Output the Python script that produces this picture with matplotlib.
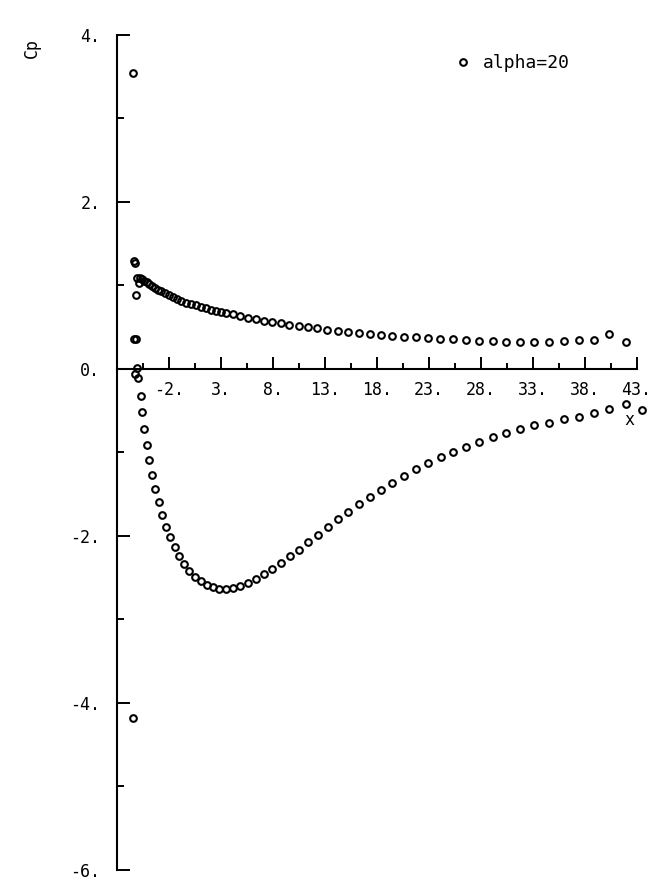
import matplotlib
matplotlib.use("Agg")
import matplotlib.pyplot as plt
from matplotlib.ticker import FixedLocator, FuncFormatter

plt.rcParams["font.family"] = ["DejaVu Sans Mono"]
plt.rcParams["axes.unicode_minus"] = False

# points around the leading edge
le_x = [-5.46, -5.37, -5.27, -5.17, -5.37, -5.17, -5.08, -5.27, -4.98, -5.46]
le_cp = [3.54, 1.29, 1.27, 0.89, 0.36, 0.36, 0.01, -0.06, -0.11, -4.18]

# upper branch (positive Cp)
up_x = [-5.11, -4.88, -4.79, -4.60, -4.40, -4.12, -3.92, -3.63, -3.35, -3.06,
        -2.77, -2.38, -2.00, -1.62, -1.23, -0.85, -0.37, 0.12, 0.60, 1.08,
        1.56, 2.04, 2.52, 3.00, 3.48, 4.15, 4.83, 5.60, 6.37, 7.13,
        7.90, 8.77, 9.54, 10.50, 11.37, 12.23, 13.19, 14.25, 15.21, 16.27,
        17.33, 18.38, 19.44, 20.60, 21.75, 22.90, 24.06, 25.31, 26.56, 27.81,
        29.15, 30.40, 31.75, 33.10, 34.54, 35.98, 37.42, 38.87, 40.31, 41.94]
up_cp = [1.09, 1.03, 1.09, 1.08, 1.05, 1.04, 1.02, 0.99, 0.97, 0.95,
         0.93, 0.91, 0.89, 0.86, 0.84, 0.81, 0.79, 0.78, 0.77, 0.74,
         0.73, 0.71, 0.69, 0.68, 0.67, 0.66, 0.63, 0.61, 0.60, 0.57,
         0.56, 0.55, 0.53, 0.51, 0.50, 0.49, 0.47, 0.46, 0.44, 0.43,
         0.42, 0.41, 0.40, 0.38, 0.38, 0.37, 0.36, 0.36, 0.35, 0.34,
         0.34, 0.32, 0.32, 0.32, 0.32, 0.34, 0.35, 0.35, 0.42, 0.32]

# lower branch (suction side)
lo_x = [-4.69, -4.60, -4.40, -4.12, -3.92, -3.63, -3.35, -2.96, -2.67, -2.29,
        -1.90, -1.42, -1.04, -0.56, -0.08, 0.50, 1.08, 1.65, 2.23, 2.81,
        3.48, 4.15, 4.83, 5.60, 6.37, 7.13, 7.90, 8.77, 9.63, 10.50,
        11.37, 12.33, 13.29, 14.25, 15.21, 16.27, 17.33, 18.38, 19.44, 20.60,
        21.75, 22.90, 24.15, 25.31, 26.56, 27.81, 29.15, 30.40, 31.75, 33.10,
        34.54, 35.98, 37.42, 38.87, 40.31, 41.94, 43.48]
lo_cp = [-0.32, -0.51, -0.72, -0.91, -1.09, -1.27, -1.44, -1.59, -1.75, -1.89,
         -2.01, -2.13, -2.24, -2.34, -2.42, -2.49, -2.54, -2.59, -2.61, -2.63,
         -2.63, -2.62, -2.60, -2.56, -2.51, -2.46, -2.40, -2.32, -2.24, -2.17,
         -2.07, -1.99, -1.89, -1.80, -1.71, -1.62, -1.53, -1.45, -1.37, -1.28,
         -1.20, -1.13, -1.05, -0.99, -0.93, -0.87, -0.81, -0.77, -0.72, -0.67,
         -0.65, -0.60, -0.57, -0.53, -0.48, -0.42, -0.49]

x_major = [-2, 3, 8, 13, 18, 23, 28, 33, 38, 43]
x_minor = [-4.5, 0.5, 5.5, 10.5, 15.5, 20.5, 25.5, 30.5, 35.5, 40.5]
y_major = [-6, -4, -2, 0, 2, 4]
y_minor = [-5, -3, -1, 1, 3]

fig = plt.figure(figsize=(6.7, 8.96), dpi=100)
ax = fig.add_axes([117 / 670, 26 / 896, 530 / 670, 835 / 896])

mk = dict(linestyle="none", marker="o", markersize=4.8, markerfacecolor="none",
          markeredgecolor="black", markeredgewidth=1.5, clip_on=False)
ax.plot(le_x + up_x + lo_x, le_cp + up_cp + lo_cp, label="alpha=20", **mk)

ax.set_xlim(-7, 44)
ax.set_ylim(-6, 4)

for side in ("top", "right"):
    ax.spines[side].set_visible(False)
ax.spines["bottom"].set_position(("data", 0))
ax.spines["bottom"].set_bounds(-7, 43)
ax.spines["left"].set_bounds(-6, 4)
for side in ("left", "bottom"):
    ax.spines[side].set_linewidth(1.5)

fmt = FuncFormatter(lambda v, p: f"{v:.0f}.")
ax.xaxis.set_major_locator(FixedLocator(x_major))
ax.xaxis.set_minor_locator(FixedLocator(x_minor))
ax.yaxis.set_major_locator(FixedLocator(y_major))
ax.yaxis.set_minor_locator(FixedLocator(y_minor))
ax.xaxis.set_major_formatter(fmt)
ax.yaxis.set_major_formatter(fmt)

ax.tick_params(axis="both", which="both", direction="in", width=1.4, colors="black")
ax.tick_params(axis="x", which="major", length=8.5, pad=9, labelsize=12)
ax.tick_params(axis="x", which="minor", length=4.5)
ax.tick_params(axis="y", which="major", length=9.5, pad=12, labelsize=12)
ax.tick_params(axis="y", which="minor", length=5)

ax.annotate("x", xy=(43, 0), xytext=(-7, -51), textcoords="offset pixels",
            ha="center", va="center", fontsize=12)
fig.text(32 / 670, 1 - 48 / 896, "Cp", rotation=90, ha="center", va="center",
         fontsize=12)

ax.legend(loc="center left", bbox_to_anchor=(0.636, 0.966), frameon=False,
          handlelength=1.0, handletextpad=0.6, borderpad=0, borderaxespad=0,
          fontsize=13)

fig.savefig("out.png", dpi=100, facecolor="white")
